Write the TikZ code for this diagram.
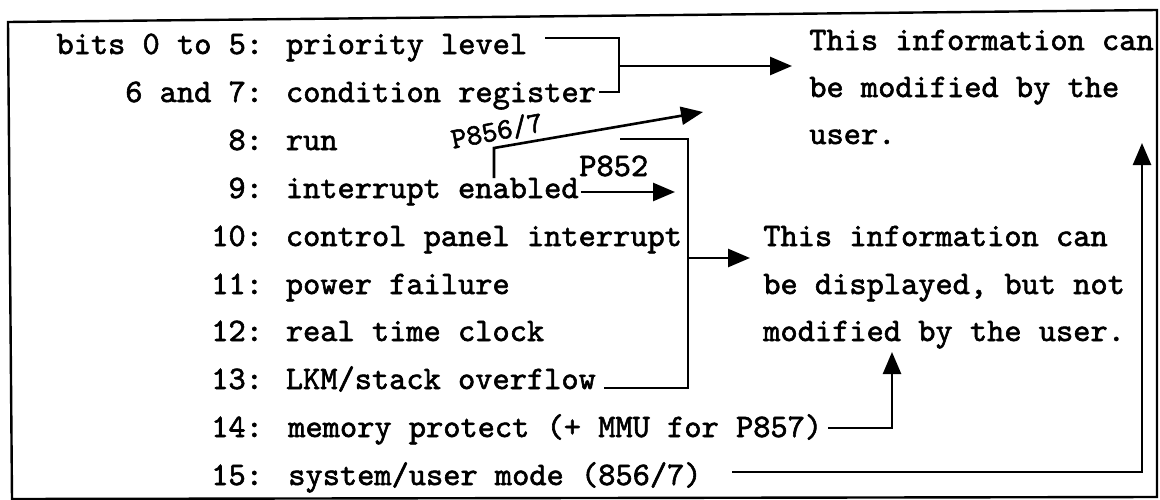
\documentclass[tikz,border=0pt]{standalone}
\usepackage{fontspec}
\usetikzlibrary{arrows.meta}
\newfontfamily\tw{lmmono10-regular.otf}[FakeBold=1.8]
\begin{document}
\begin{tikzpicture}[x=1pt,y=-1pt,line width=2.6pt,
  txt/.style={anchor=base west,inner sep=0pt,font=\tw\fontsize{32.8}{40}\selectfont},
  lbl/.style={inner sep=0pt,font=\tw\fontsize{29.5}{34}\selectfont},
  arr/.style={-{Triangle[length=22pt,width=18pt]}},
  conn/.style={line cap=butt,line join=miter}]
\useasboundingbox (0,0) rectangle (1160,499);
\fill[white] (0,0) rectangle (1160,499);
% frame
\draw[line width=2.4pt] (8,22) -- (1157,10) -- (1157,497) -- (12,499) -- cycle;
% left column
\node[txt] (r1) at (55.2,54) {bits 0 to 5: priority level};
\node[txt] (r2) at (124,102) {6 and 7: condition register};
\node[txt] (r3) at (227.2,150) {8: run};
\node[txt] (r4) at (227.2,198) {9: interrupt enabled};
\node[txt] (r5) at (210,246) {10: control panel interrupt};
\node[txt] (r6) at (210,294) {11: power failure};
\node[txt] (r7) at (210,341) {12: real time clock};
\node[txt] (r8) at (210,389) {13: LKM/stack overflow};
\node[txt] (r9a) at (210,437) {14:};
\node[txt] (r9) at (287,437) {memory protect (+ MMU for P857)};
\node[txt] (r10a) at (210,485) {15:};
\node[txt] (r10) at (287,485) {system/user mode (856/7)};
% messages
\node[txt] (u1) at (808,50) {This information can};
\node[txt] (u2) at (808,97) {be modified by the};
\node[txt] (u3) at (808,144) {user.};
\node[txt] (l1) at (762,246) {This information can};
\node[txt] (l2) at (762,294) {be displayed, but not};
\node[txt] (l3) at (762,341) {modified by the user.};
% labels
\node[lbl,rotate=11] (p857) at (497,131) {P856/7};
\node[txt] (p852) at (578,176) {P852};
% coordinates
\coordinate (a1) at (545,38);
\coordinate (a2) at (619,38);
\coordinate (a3) at (619,92);
\coordinate (am) at (619,66);
\coordinate (at) at (792,66);
\coordinate (b1) at (494,178);
\coordinate (b2) at (494,148);
\coordinate (bt) at (703,112);
\coordinate (c1) at (675,192);
\coordinate (d1) at (620,139);
\coordinate (d2) at (688,139);
\coordinate (d3) at (688,388);
\coordinate (dm) at (688,258);
\coordinate (dt) at (750,258);
\coordinate (e1) at (892,428);
\coordinate (et) at (892,352);
\coordinate (f0) at (732,472);
\coordinate (f1) at (1142,472);
\coordinate (ft) at (1142,143);
% connectors
\draw[conn] (a1) -- (a2) -- (a3) -- ([xshift=2pt]r2.east |- a3);
\draw[conn,arr] (am) -- (at);
\draw[conn,arr] (b1) -- (b2) -- (bt);
\draw[conn,arr] ([xshift=1pt]r4.east |- c1) -- (c1);
\draw[conn] (d1) -- (d2) -- (d3) -- ([xshift=7pt]r8.east |- d3);
\draw[conn,arr] (dm) -- (dt);
\draw[conn,arr] ([xshift=5pt]r9.east |- e1) -- (e1) -- (et);
\draw[conn,arr] (f0) -- (f1) -- (ft);
\end{tikzpicture}
\end{document}
